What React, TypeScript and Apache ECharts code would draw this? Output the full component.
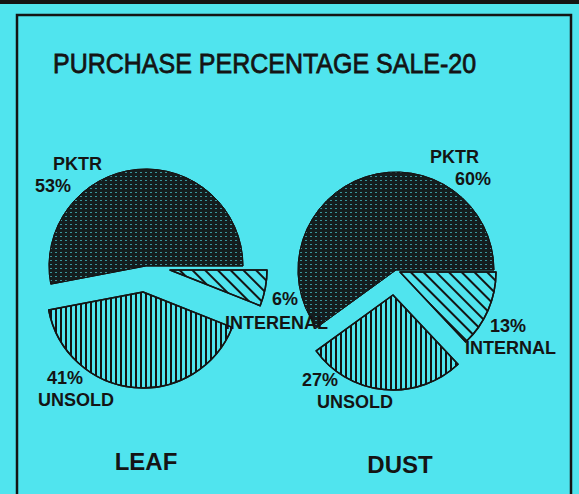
import React, { useEffect, useRef } from "react";
import * as echarts from "echarts";

const chartTitle = "PURCHASE PERCENTAGE SALE-20";
const pieNames = ["LEAF", "DUST"];
const leafLabels = ["PKTR", "INTERENAL", "UNSOLD"];
const dustLabels = ["PKTR", "INTERNAL", "UNSOLD"];
const leafValues = [53, 6, 41];
const dustValues = [60, 13, 27];

const BG = "#50e4ee";
const INK = "#141414";
const FONT = "'Liberation Sans', Arial, sans-serif";

const sliceStyles = [
  {
    color: "#141d1e",
    borderColor: INK,
    borderWidth: 1,
    decal: {
      symbol: "rect",
      symbolSize: 1,
      color: "rgba(80,228,238,0.6)",
      dashArrayX: [2, 2.5],
      dashArrayY: [1, 2.5],
    },
  },
  {
    color: BG,
    borderColor: INK,
    borderWidth: 1.5,
    decal: {
      symbol: "rect",
      symbolSize: 1,
      color: INK,
      dashArrayX: [1, 0],
      dashArrayY: [1.3, 7],
      rotation: Math.PI / 4,
    },
  },
  {
    color: BG,
    borderColor: INK,
    borderWidth: 1.5,
    decal: {
      symbol: "rect",
      symbolSize: 1,
      color: INK,
      dashArrayX: [1.4, 2.6],
      dashArrayY: [1, 0],
    },
  },
];

type LabelPos = { x: number; y: number; lh: number; padName: number; padPct: number; nameFirst: boolean };

function sliceSeries(
  values: number[],
  labels: string[],
  idx: number,
  center: [number, number],
  radius: number,
  startAngle: number,
  lp: LabelPos
) {
  const txt = { fontFamily: FONT, fontWeight: "bold", fontSize: 18, color: INK, lineHeight: lp.lh };
  return {
    type: "pie",
    center,
    radius,
    startAngle,
    clockwise: true,
    avoidLabelOverlap: false,
    silent: true,
    emphasis: { disabled: true },
    labelLine: { show: false },
    labelLayout: { x: lp.x, y: lp.y, align: "left", verticalAlign: "top" },
    data: values.map((v, i) => ({
      name: labels[i],
      value: v,
      itemStyle: i === idx ? sliceStyles[i] : { color: "rgba(0,0,0,0)", borderWidth: 0 },
      label:
        i === idx
          ? {
              show: true,
              position: "outside",
              formatter: (p: any) =>
                lp.nameFirst
                  ? `{n|${p.name}}\n{p|${p.value}%}`
                  : `{p|${p.value}%}\n{n|${p.name}}`,
              rich: {
                n: { ...txt, padding: [0, 0, 0, lp.padName] },
                p: { ...txt, padding: [0, 0, 0, lp.padPct] },
              },
            }
          : { show: false },
    })),
  };
}

export default function App() {
  const ref = useRef<HTMLDivElement>(null);
  useEffect(() => {
    if (!ref.current) return;
    const chart = echarts.init(ref.current, null, { renderer: "svg" });
    const leafStart = (leafValues[0] / 100) * 360;
    const dustStart = (dustValues[0] / 100) * 360;
    const series = [
      sliceSeries(leafValues, leafLabels, 0, [146, 266], 97, leafStart, { x: 35, y: 153, lh: 22, padName: 18, padPct: 0, nameFirst: true }),
      sliceSeries(leafValues, leafLabels, 1, [170, 270], 97, leafStart, { x: 225, y: 287, lh: 24, padName: 0, padPct: 47, nameFirst: false }),
      sliceSeries(leafValues, leafLabels, 2, [143, 292], 96, leafStart, { x: 38, y: 367, lh: 22, padName: 0, padPct: 9, nameFirst: false }),
      sliceSeries(dustValues, dustLabels, 0, [396, 270], 98, dustStart, { x: 430, y: 146, lh: 22, padName: 0, padPct: 25, nameFirst: true }),
      sliceSeries(dustValues, dustLabels, 1, [400, 272], 96, dustStart, { x: 465, y: 315, lh: 22, padName: 0, padPct: 25, nameFirst: false }),
      sliceSeries(dustValues, dustLabels, 2, [393, 295], 95, dustStart, { x: 302, y: 369, lh: 22, padName: 15, padPct: 0, nameFirst: false }),
    ];
    chart.setOption({
      animation: false,
      backgroundColor: BG,
      title: [
        { text: pieNames[0], left: 141, top: 456, textAlign: "center", textVerticalAlign: "middle",
          textStyle: { fontFamily: FONT, fontWeight: "bold", fontSize: 24, color: INK } },
        { text: pieNames[1], left: 395, top: 459, textAlign: "center", textVerticalAlign: "middle",
          textStyle: { fontFamily: FONT, fontWeight: "bold", fontSize: 24, color: INK } },
      ],
      graphic: [
        { type: "line", shape: { x1: 0, y1: 2, x2: 579, y2: 2 }, style: { stroke: INK, lineWidth: 4 } },
        { type: "rect", shape: { x: 17, y: 15, width: 554, height: 500 }, style: { fill: "none", stroke: INK, lineWidth: 2.5 } },
        {
          type: "text",
          x: 53,
          y: 64,
          scaleY: 1.12,
          style: { text: chartTitle, fontFamily: FONT, fontSize: 25, fontWeight: "normal", fill: INK, stroke: INK, lineWidth: 0.7, verticalAlign: "middle", align: "left" },
        },
      ],
      series,
    });
    return () => chart.dispose();
  }, []);
  return <div ref={ref} style={{ position: "fixed", left: 0, top: 0, width: 579, height: 494 }} />;
}
